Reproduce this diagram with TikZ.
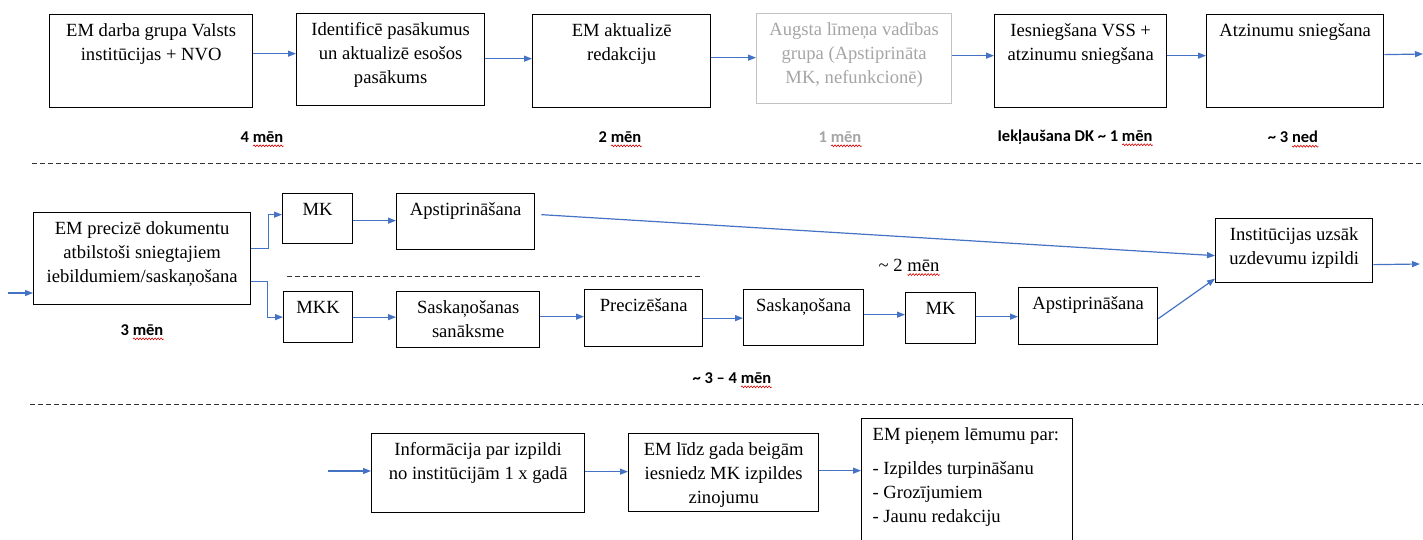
\documentclass[tikz,border=0pt]{standalone}
\usepackage{fontspec}
\setmainfont{Liberation Serif}
\newfontfamily\calib[Ligatures=TeX]{Carlito}
\usetikzlibrary{arrows.meta,positioning,calc,decorations.pathmorphing}

\definecolor{arrblue}{RGB}{68,114,196}
\definecolor{faded}{RGB}{165,165,165}
\definecolor{fadedline}{RGB}{195,195,195}

\newcommand{\boxtext}[3]{\parbox[t][#2][t]{#1}{\centering\vspace*{5pt}\strut #3}}
\newcommand{\listtext}[3]{\parbox[t][#2][t]{#1}{\raggedright\leftskip=11pt\vspace*{5pt}\strut #3}}
% red spell-check wave under the last word of a label
\newcommand{\squig}[2]{\draw[squig] ([yshift=-3.5pt]#1.base east) -- ++(-#2,0);}

\begin{document}
\begin{tikzpicture}[x=1pt, y=-1pt,
    font=\fontsize{18.6}{24}\selectfont,
    blk/.style={draw, line width=1.3pt, anchor=north west, inner sep=0pt},
    arr/.style={draw=arrblue, line width=1.2pt, -{Triangle[length=8pt,width=6pt]}},
    dur/.style={inner sep=0pt, font=\calib\bfseries\fontsize{16.5}{20}\selectfont},
    squig/.style={draw=red!85!black, line width=0.6pt, decorate, decoration={snake, amplitude=0.9pt, segment length=3pt}},
    sep/.style={draw=black!80, line width=0.9pt, dash pattern=on 5pt off 3pt}]
  \useasboundingbox (0,0) rectangle (1423,540);
  %top row
  \node[blk] (b1) at (49,14) {\boxtext{203pt}{93pt}{EM darba grupa Valsts\\institūcijas + NVO}};
  \node[blk] (b2) at (296,13) {\boxtext{188pt}{92pt}{Identificē pasākumus\\un aktualizē esošos\\pasākums}};
  \node[blk] (b3) at (532,14) {\boxtext{178pt}{93pt}{EM aktualizē\\redakciju}};
  \node[blk, draw=fadedline, text=faded] (b4) at (756,13) {\boxtext{195pt}{90pt}{Augsta līmeņa vadības\\grupa (Apstiprināta\\MK, nefunkcionē)}};
  \node[blk] (b5) at (994,14) {\boxtext{172pt}{93pt}{Iesniegšana VSS +\\atzinumu sniegšana}};
  \node[blk] (b6) at (1206,14) {\boxtext{177pt}{93pt}{Atzinumu sniegšana}};
  \coordinate (out1) at (1423,54);
  \draw[arr] ([yshift=7.5pt]b1.east) -- ([yshift=7.5pt]b1.east -| b2.west);
  \draw[arr] ([yshift=1pt]b2.east) -- ([yshift=1pt]b2.east -| b3.west);
  \draw[arr] ([yshift=3.5pt]b3.east) -- ([yshift=3.5pt]b3.east -| b4.west);
  \draw[arr] ([yshift=3pt]b4.east) -- ([yshift=3pt]b4.east -| b5.west);
  \draw[arr] ([yshift=5.5pt]b5.east) -- ([yshift=5.5pt]b5.east -| b6.west);
  \draw[arr] ([yshift=6.5pt]b6.east) -- (out1);
  %durations
  \node[dur] (d1) at (262,137) {4 mēn};
  \node[dur] (d2) at (620,137) {2 mēn};
  \node[dur, text=faded] (d3) at (840,137) {1 mēn};
  \node[dur] (d4) at (1075,137) {Iekļaušana DK \textasciitilde{} 1 mēn};
  \node[dur] (d5) at (1293,137) {\textasciitilde{} 3 ned};
  \squig{d1}{30.6} \squig{d2}{30.6} \squig{d3}{30.6} \squig{d4}{30.6} \squig{d5}{26}
  %separators
  \coordinate (s1a) at (32,163);  \coordinate (s1b) at (1423,163);
  \coordinate (s2a) at (287,276); \coordinate (s2b) at (703,276);
  \coordinate (s3a) at (30,404);  \coordinate (s3b) at (1423,404);
  \draw[sep] (s1a) -- (s1b);
  \draw[sep] (s2a) -- (s2b);
  \draw[sep] (s3a) -- (s3b);
  %middle row
  \coordinate (in2) at (8,293);
  \node[blk] (c1) at (33,212) {\boxtext{217pt}{92pt}{EM precizē dokumentu\\atbilstoši sniegtajiem\\iebildumiem/saskaņošana}};
  \node[blk] (mk1) at (282,193) {\boxtext{70pt}{50pt}{MK}};
  \node[blk] (ap1) at (396,193) {\boxtext{138pt}{56pt}{Apstiprināšana}};
  \node[blk] (inst) at (1215,218) {\boxtext{157pt}{64pt}{Institūcijas uzsāk\\uzdevumu izpildi}};
  \node[blk] (mkk) at (283,291) {\boxtext{69pt}{51pt}{MKK}};
  \node[blk] (sas1) at (396,291) {\boxtext{143pt}{56pt}{Saskaņošanas\\sanāksme}};
  \node[blk] (prec) at (584,289) {\boxtext{118pt}{57pt}{Precizēšana}};
  \node[blk] (sas2) at (743,289) {\boxtext{120pt}{56pt}{Saskaņošana}};
  \node[blk] (mk2) at (905,292) {\boxtext{70pt}{51pt}{MK}};
  \node[blk] (ap2) at (1018,287) {\boxtext{139pt}{57pt}{Apstiprināšana}};
  \coordinate (out2) at (1420,264);
  \draw[arr] (in2) -- (in2 -| c1.west);
  \draw[arr] ([yshift=10pt]c1.east) -- ++(17,0) |- ([yshift=4pt]mk1.west);
  \draw[arr] ([yshift=-23pt]c1.east) -- ++(16,0) |- (mkk.west);
  \draw[arr] ([yshift=-2pt]mk1.east) -- ([yshift=-2pt]mk1.east -| ap1.west);
  \draw[arr] ([xshift=6pt,yshift=7pt]ap1.east) -- ([yshift=-5pt]inst.west);
  \draw[arr] (mkk.east) -- (mkk.east -| sas1.west);
  \draw[arr] ([yshift=3pt]sas1.east) -- ([yshift=3pt]sas1.east -| prec.west);
  \draw[arr] (prec.east) -- (prec.east -| sas2.west);
  \draw[arr] ([yshift=3pt]sas2.east) -- ([yshift=3pt]sas2.east -| mk2.west);
  \draw[arr] ([yshift=1.5pt]mk2.east) -- ([yshift=1.5pt]mk2.east -| ap2.west);
  \draw[arr] ([yshift=-2.5pt]ap2.east) -- ([yshift=-28pt]inst.west);
  \draw[arr] ([yshift=-14pt]inst.east) -- (out2);
  \node[inner sep=0pt] (d6) at (909,265) {\textasciitilde{} 2 mēn};
  \node[dur] (d7) at (142,330) {3 mēn};
  \node[dur] (d8) at (732,378) {\textasciitilde{} 3 \textendash{} 4 mēn};
  \squig{d6}{32} \squig{d7}{30.6} \squig{d8}{30.6}
  %bottom row
  \coordinate (in3) at (328,471);
  \node[blk] (info) at (371,433) {\boxtext{213pt}{79pt}{Informācija par izpildi\\no institūcijām 1 x gadā}};
  \node[blk] (emz) at (628,433) {\boxtext{190pt}{78pt}{EM līdz gada beigām\\iesniedz MK izpildes\\zinojumu}};
  \node[blk] (dec) at (861,418) {\listtext{211pt}{125pt}{EM pieņem lēmumu par:\\[10pt]- Izpildes turpināšanu\\- Grozījumiem\\- Jaunu redakciju}};
  \draw[arr] (in3) -- (in3 -| info.west);
  \draw[arr] ([yshift=1.5pt]info.east) -- ([yshift=1.5pt]info.east -| emz.west);
  \draw[arr] ([yshift=2pt]emz.east) -- ([yshift=2pt]emz.east -| dec.west);
\end{tikzpicture}
\end{document}
